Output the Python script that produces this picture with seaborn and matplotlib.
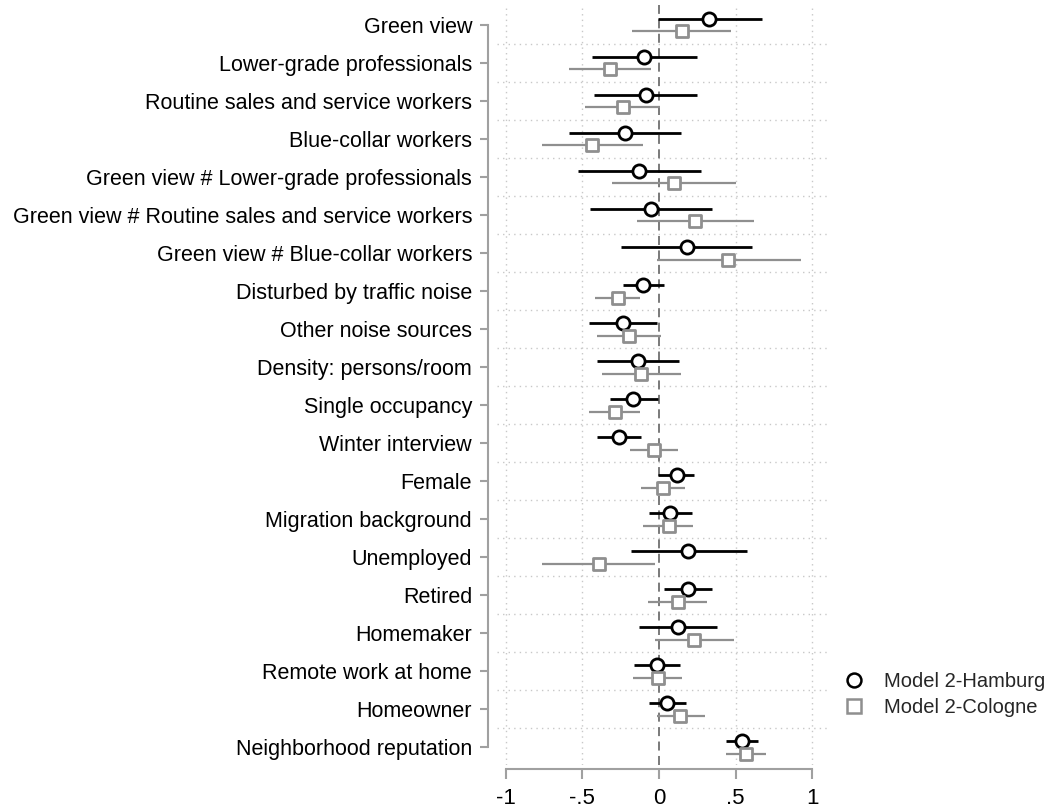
import numpy as np
import pandas as pd
import seaborn as sns
import matplotlib
matplotlib.use("Agg")
import matplotlib.pyplot as plt
from matplotlib.lines import Line2D

# Coefficients and 95% confidence intervals, listed top to bottom
terms = [
    "Green view",
    "Lower-grade professionals",
    "Routine sales and service workers",
    "Blue-collar workers",
    "Green view # Lower-grade professionals",
    "Green view # Routine sales and service workers",
    "Green view # Blue-collar workers",
    "Disturbed by traffic noise",
    "Other noise sources",
    "Density: persons/room",
    "Single occupancy",
    "Winter interview",
    "Female",
    "Migration background",
    "Unemployed",
    "Retired",
    "Homemaker",
    "Remote work at home",
    "Homeowner",
    "Neighborhood reputation",
]

hamburg_coef = [0.326, -0.098, -0.087, -0.222, -0.130, -0.052, 0.180, -0.102, -0.237, -0.135,
                -0.167, -0.259, 0.115, 0.072, 0.191, 0.191, 0.126, -0.011, 0.054, 0.541]
hamburg_lo = [-0.010, -0.435, -0.424, -0.585, -0.530, -0.452, -0.246, -0.233, -0.457, -0.402,
              -0.322, -0.407, -0.004, -0.065, -0.185, 0.033, -0.128, -0.161, -0.063, 0.435]
hamburg_hi = [0.670, 0.246, 0.248, 0.144, 0.272, 0.348, 0.609, 0.035, -0.015, 0.133,
              -0.009, -0.115, 0.230, 0.215, 0.572, 0.348, 0.380, 0.137, 0.178, 0.644]

cologne_coef = [0.148, -0.322, -0.237, -0.435, 0.096, 0.237, 0.452, -0.270, -0.196, -0.115,
                -0.289, -0.035, 0.024, 0.065, -0.391, 0.124, 0.228, -0.009, 0.139, 0.567]
cologne_lo = [-0.174, -0.587, -0.480, -0.765, -0.307, -0.141, -0.015, -0.415, -0.402, -0.372,
              -0.454, -0.191, -0.117, -0.102, -0.765, -0.070, -0.028, -0.172, -0.013, 0.437]
cologne_hi = [0.467, -0.054, 0.007, -0.102, 0.500, 0.618, 0.924, -0.122, 0.011, 0.141,
              -0.122, 0.122, 0.167, 0.224, -0.028, 0.313, 0.489, 0.150, 0.298, 0.698]

models = ["Model 2-Hamburg", "Model 2-Cologne"]
x_ticks = [-1, -0.5, 0, 0.5, 1]
x_tick_labels = ["-1", "-.5", "0", ".5", "1"]

sns.set_theme(style="white")
plt.rcParams["font.family"] = ["Liberation Sans", "DejaVu Sans"]

black = "#000000"
grey = "#8f8f8f"
axis_grey = "#a0a0a0"

n = len(terms)
pos = np.arange(n)
offset = 0.17

df = pd.DataFrame({
    "term": terms * 2,
    "model": [models[0]] * n + [models[1]] * n,
    "coef": hamburg_coef + cologne_coef,
    "lo": hamburg_lo + cologne_lo,
    "hi": hamburg_hi + cologne_hi,
    "y": np.concatenate([pos - offset, pos + offset]),
})

fig = plt.figure(figsize=(10.51, 8.09), dpi=100)
ax = fig.add_axes([0.4729, 0.0544, 0.3149, 0.9394])

# grid: vertical dotted at ticks, horizontal dotted between terms
for xv in [-1, -0.5, 0.5, 1]:
    ax.axvline(xv, color="#c8c8c8", lw=1.0, ls=(0, (1, 3)), zorder=0)
for yv in np.arange(0.5, n - 1, 1.0):
    ax.axhline(yv, color="#c8c8c8", lw=1.0, ls=(0, (1, 3)), zorder=0)
ax.axvline(0, color="#707070", lw=1.3, ls=(0, (5, 3)), zorder=1)

# confidence intervals
colors = {models[0]: black, models[1]: grey}
widths = {models[0]: 2.0, models[1]: 1.6}
for m in models:
    sub = df[df["model"] == m]
    ax.hlines(sub["y"], sub["lo"], sub["hi"], color=colors[m], lw=widths[m], zorder=2)

# point estimates
sns.scatterplot(data=df[df["model"] == models[0]], x="coef", y="y", ax=ax,
                marker="o", s=90, facecolor="white", edgecolor=black, linewidth=2.0,
                zorder=3, legend=False)
sns.scatterplot(data=df[df["model"] == models[1]], x="coef", y="y", ax=ax,
                marker="s", s=85, facecolor="white", edgecolor=grey, linewidth=2.0,
                zorder=3, legend=False)

ax.set_xlim(-1.057, 1.102)
ax.set_ylim(19.47, -0.526)
ax.set_yticks(pos)
ax.set_yticklabels(terms)
ax.set_xticks(x_ticks)
ax.set_xticklabels(x_tick_labels)
ax.set_xlabel("")
ax.set_ylabel("")

for side in ["top", "right"]:
    ax.spines[side].set_visible(False)
ax.spines["left"].set_position(("outward", 6.5))
ax.spines["bottom"].set_position(("outward", 3))
ax.spines["left"].set_bounds(0, n - 1)
ax.spines["bottom"].set_bounds(-1, 1)
for side in ["left", "bottom"]:
    ax.spines[side].set_color(axis_grey)
    ax.spines[side].set_linewidth(1.5)

ax.tick_params(axis="y", which="major", left=True, length=5.5, width=1.5,
               color=axis_grey, pad=6, labelsize=15.5, labelcolor="black")
ax.tick_params(axis="x", which="major", bottom=True, length=7.5, width=1.5,
               color=axis_grey, pad=6, labelsize=16, labelcolor="black")

handles = [
    Line2D([], [], marker="o", ls="none", markersize=10, markerfacecolor="white",
           markeredgecolor=black, markeredgewidth=1.8),
    Line2D([], [], marker="s", ls="none", markersize=10, markerfacecolor="white",
           markeredgecolor=grey, markeredgewidth=1.8),
]
fig.legend(handles, models, loc="center left", bbox_to_anchor=(0.784, 0.142),
           frameon=False, fontsize=14.5, handletextpad=0.9, labelspacing=0.35,
           handlelength=1.2)

fig.savefig("out.png", dpi=100, facecolor="white")
